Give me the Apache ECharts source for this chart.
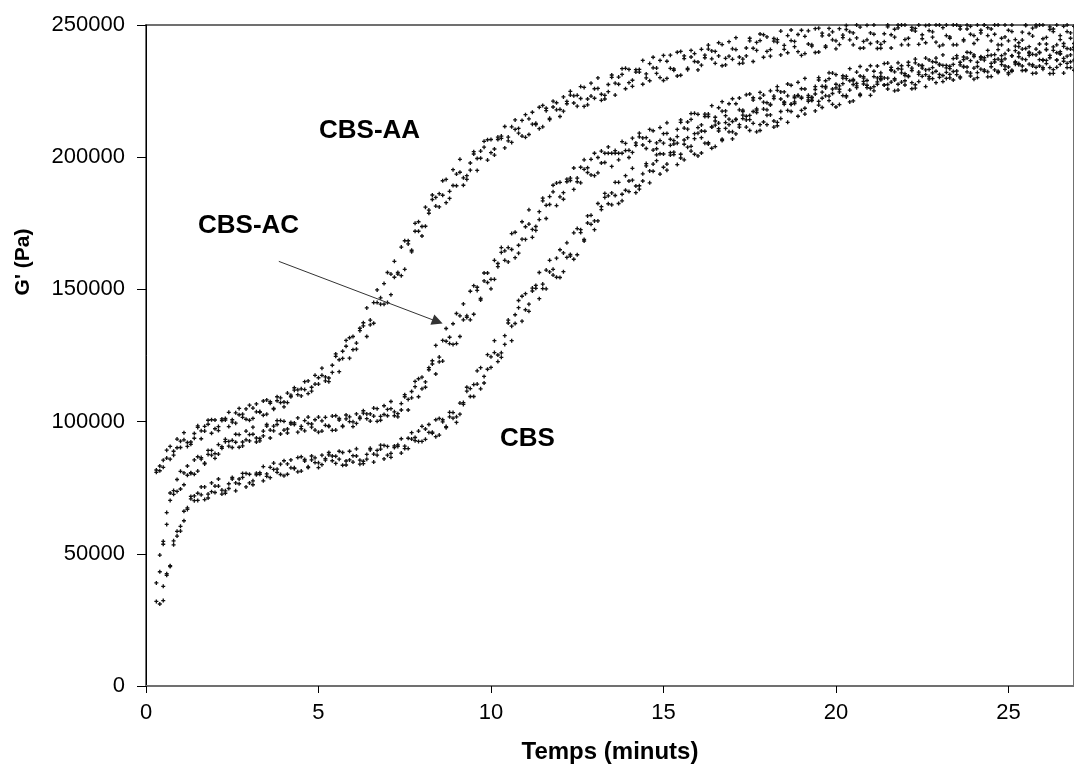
<!DOCTYPE html>
<html>
<head>
<meta charset="utf-8">
<script src="https://cdn.jsdelivr.net/npm/echarts@6/dist/echarts.min.js"></script>
<style>
html,body{margin:0;padding:0;background:#fff;}
#chart{width:1074px;height:776px;}
</style>
</head>
<body>
<div id="chart"></div>
<script>
// ---- data (time in minutes, G' in Pa) ----
const timeMin = [
0.3,0.4,0.5,0.6,0.7,0.8,0.9,1.0,1.1,1.2,
1.3,1.4,1.5,1.6,1.7,1.8,1.9,2.0,2.1,2.2,
2.3,2.4,2.5,2.6,2.7,2.8,2.9,3.0,3.1,3.2,
3.3,3.4,3.5,3.6,3.7,3.8,3.9,4.0,4.1,4.2,
4.3,4.4,4.5,4.6,4.7,4.8,4.9,5.0,5.1,5.2,
5.3,5.4,5.5,5.6,5.7,5.8,5.9,6.0,6.1,6.2,
6.3,6.4,6.5,6.6,6.7,6.8,6.9,7.0,7.1,7.2,
7.3,7.4,7.5,7.6,7.7,7.8,7.9,8.0,8.1,8.2,
8.3,8.4,8.5,8.6,8.7,8.8,8.9,9.0,9.1,9.2,
9.3,9.4,9.5,9.6,9.7,9.8,9.9,10.0,10.1,10.2,
10.3,10.4,10.5,10.6,10.7,10.8,10.9,11.0,11.1,11.2,
11.3,11.4,11.5,11.6,11.7,11.8,11.9,12.0,12.1,12.2,
12.3,12.4,12.5,12.6,12.7,12.8,12.9,13.0,13.1,13.2,
13.3,13.4,13.5,13.6,13.7,13.8,13.9,14.0,14.1,14.2,
14.3,14.4,14.5,14.6,14.7,14.8,14.9,15.0,15.1,15.2,
15.3,15.4,15.5,15.6,15.7,15.8,15.9,16.0,16.1,16.2,
16.3,16.4,16.5,16.6,16.7,16.8,16.9,17.0,17.1,17.2,
17.3,17.4,17.5,17.6,17.7,17.8,17.9,18.0,18.1,18.2,
18.3,18.4,18.5,18.6,18.7,18.8,18.9,19.0,19.1,19.2,
19.3,19.4,19.5,19.6,19.7,19.8,19.9,20.0,20.1,20.2,
20.3,20.4,20.5,20.6,20.7,20.8,20.9,21.0,21.1,21.2,
21.3,21.4,21.5,21.6,21.7,21.8,21.9,22.0,22.1,22.2,
22.3,22.4,22.5,22.6,22.7,22.8,22.9,23.0,23.1,23.2,
23.3,23.4,23.5,23.6,23.7,23.8,23.9,24.0,24.1,24.2,
24.3,24.4,24.5,24.6,24.7,24.8,24.9,25.0,25.1,25.2,
25.3,25.4,25.5,25.6,25.7,25.8,25.9,26.0,26.1,26.2,
26.3,26.4,26.5,26.6,26.7,26.8,26.9
];

// CBS-AA, two runs
const cbsAA_run1 = [
81700,83200,82700,86200,90600,87300,90100,92600,95800,92100,
92300,95500,98400,93500,96400,99000,100700,97300,96600,100400,
100600,98100,99800,103300,105000,102800,100900,100500,105100,106700,
103800,107800,102800,106900,104700,109400,109000,107400,107200,109400,
111900,110200,112400,115100,110600,113000,117500,114200,117500,115400,
115100,118600,124700,123400,126600,130700,124000,132200,129700,135300,
137400,143000,138400,137200,145000,144400,152200,156400,148000,154600,
155800,155200,168400,168400,164800,172000,172000,170200,181100,180000,
185700,184800,181200,185600,191600,184400,189300,193600,199200,192200,
193000,197800,202100,195000,199600,203800,206600,201700,200800,206700,
207100,203500,206200,211500,214100,210900,208000,207500,214500,217000,
212800,218900,211500,217600,214200,221200,220600,218100,217400,220200,
223500,220500,223400,226700,219200,222000,228000,222300,226000,221500,
222000,224800,230200,228000,230300,233500,225900,233200,229100,233100,
233200,236600,231500,228900,233800,231700,236600,238500,229800,233600,
232900,230700,240000,238300,233600,237900,236200,233000,240800,238600,
242400,240200,235500,238300,242600,234900,238200,241000,245200,237900,
237100,241300,245000,236200,240400,244100,246300,240000,238200,243900,
243500,238700,240800,246000,248100,243800,239900,238500,245700,247800,
242500,248600,239800,245900,241600,248700,247400,244000,242600,245200,
248300,244400,247000,250000,241200,243800,249900,243000,246500,241100,
241200,243700,249300,246300,248400,250000,242500,250000,245000,249100,
248700,250000,246300,243300,247900,245400,250000,250000,242500,246000,
245000,242500,250000,249500,244500,248500,246500,243000,250000,248000,
250000,249000,244000,246500,250000,242500,245500,248000,250000,244500,
243300,247300,250000,241800,245800,249300,250000,244800,242800,248300,
247500,242500,244500,249500,250000,247000,243000
];
const cbsAA_run2 = [
80800,81400,85400,89200,85800,88800,93400,90200,93100,90600,
91400,93700,97800,96500,98200,100500,95600,100600,98100,101000,
101200,103500,100700,99400,102600,101600,104800,106200,101200,103700,
103500,102400,108200,107500,105000,107900,107200,105600,110800,110000,
112800,112000,109700,112100,115400,111500,114200,116600,120200,116900,
116500,121300,125600,118900,123900,128500,131700,127200,127400,134400,
136200,132200,136600,145000,149800,146800,144400,145000,155800,160600,
156400,166000,157600,167200,164200,175000,175600,173800,173900,178800,
184000,181500,186200,191100,182800,187100,195300,189200,194300,189400,
191600,195100,201200,199500,202300,206000,198900,206700,203100,207600,
208000,211600,207600,205600,210500,209100,213900,216100,208600,212500,
212300,210800,219600,218500,214700,219000,217900,215400,222800,221100,
224900,223200,219300,222200,226400,219800,223100,225900,230000,223800,
223400,227500,231100,223500,227600,231300,233600,228200,226800,232200,
232200,227600,230000,235400,237800,233700,230100,229000,236300,238600,
233400,239700,231000,237300,233100,240400,239200,236000,234800,237600,
240900,237200,240000,243300,234600,237400,243700,237000,240700,235400,
235600,238300,244000,241200,243400,246600,237800,245500,240700,244900,
244500,247700,242300,239500,244100,241800,246400,248000,239200,242800,
242000,239600,248800,246900,242100,246200,244400,241000,248600,246200,
249800,247400,242500,245100,249200,241300,244400,247000,250000,243600,
242700,246700,250000,241300,245400,248900,250000,244500,242500,248100,
247700,242700,244800,249800,250000,247400,243500,242000,249000,250000,
245500,250000,242500,248500,244000,250000,249500,246000,244500,247000,
250000,246000,248500,250000,242500,245000,250000,244000,247500,242000,
241800,244300,249800,246800,248800,250000,242800,250000,245300,249300,
248500,250000,246000,243000,247500,245000,249500
];

// CBS-AC, two runs
const cbsAC_run1 = [
32000,43200,53600,65600,73000,73900,73600,74500,80600,83200,
80700,85500,81300,85800,84000,89100,89100,87900,87700,89900,
92400,90700,92900,95200,90300,92300,96400,92700,95200,92300,
92700,94600,98300,96800,98300,100400,95300,100100,97200,99700,
99500,101400,98200,96500,99300,97900,100700,101700,96400,98600,
98100,96700,102200,101200,98400,101000,100000,98100,102900,101700,
104100,102900,100200,102100,104900,100500,102700,104600,107600,103700,
103000,106800,110200,104400,109000,113200,116200,112400,113000,119600,
121800,118000,122600,130700,135200,131900,129200,129500,140000,144500,
140000,149300,140600,149600,146000,156200,156200,153800,153800,158600,
164000,161000,165800,171100,162000,166700,175600,168900,174700,169700,
172300,176400,183500,181800,185100,189400,181700,190500,186600,191700,
192100,195900,192100,190300,195400,194200,199200,201500,194100,197800,
201500,201500,201500,201500,201500,201500,202500,199900,207200,205400,
209100,207300,203300,206000,210000,203200,206300,208900,213000,206800,
206300,210500,214100,206500,210600,214300,216600,211200,209900,215400,
215400,211400,213700,218700,221000,217500,214400,213500,220200,222400,
217800,223600,215800,221600,217800,224500,223500,220600,219700,222200,
225300,222000,224700,227700,220000,222500,228300,222300,225800,221100,
221400,223900,229200,226800,228900,231900,224100,231200,227000,230800,
230600,233500,228900,226300,230700,228700,233000,234600,226700,230000,
229300,227300,235600,234000,229700,233500,231900,228900,235900,233700,
237100,234900,230600,233000,236800,229700,232500,234900,238700,232100,
231300,235100,238400,230400,234200,237500,239500,233700,232000,237100,
236700,232300,234200,238800,240700,236800,233200,232000,238400,240300,
235400,240900,233000,238500,234500,240900,239700,236600,235400,237600,
240400,236800,239200,241900,233900,236100,241600
];
const cbsAC_run2 = [
39000,49500,54700,61100,70200,72500,78100,81200,76100,79700,
80400,80100,86700,86400,84300,87600,87300,86100,91300,90500,
93300,92500,90200,92200,95100,90800,93100,95100,97900,93800,
93600,96400,98900,93800,96500,98900,100400,96800,95700,99100,
98900,96000,97300,100400,101700,99100,96800,96000,100300,101600,
98400,102100,96800,100600,98100,102500,101800,99900,99300,101100,
103200,101100,102900,105100,100100,102000,106000,102200,104900,102200,
101800,104400,109400,108400,111400,115200,109400,116800,115000,120400,
123000,128800,124400,122900,130400,129500,137000,140900,132200,138500,
139400,138500,151400,150800,146600,153200,152600,150200,161000,159800,
165800,164600,160400,165100,171600,163700,169000,173700,180100,172700,
173800,179400,184500,176800,182100,186900,190200,185000,184100,190700,
191200,187800,190700,196200,199000,196000,193300,193000,199900,202300,
198000,203900,196500,202500,199000,205900,205200,202600,201800,204500,
207700,204600,207400,210500,202700,205400,211200,205300,209000,204500,
205000,207800,213200,211000,213300,216500,208900,216200,212200,216300,
216300,219500,215100,212900,217400,215700,220200,222100,214400,217900,
217300,215500,223900,222500,218300,222300,220800,217900,225100,223100,
226700,224700,220600,223200,227200,220300,223400,225900,229800,223400,
222700,226700,230100,222300,226200,229700,231800,226200,224700,229900,
229700,225400,227500,232200,234300,230500,227200,226000,232500,234500,
229800,235400,227500,233100,229200,235700,234600,231600,230500,232800,
235700,232200,234700,237500,229600,231900,237500,231300,234700,229800,
230000,232400,237500,234900,236900,239700,231800,238700,234300,238000,
237600,240400,235500,233000,237100,235000,239100,240500,232500,235800,
235000,232800,241100,239400,235000,238700,236900,233900,240800,238500,
241700,239500,235100,237400,241100,233900,236700
];

// CBS, two runs
const cbs_run1 = [
null,null,32300,41900,45200,54900,58500,60400,62500,66800,
70800,70100,72900,75300,70500,72600,76800,73200,75600,72600,
72900,74700,78300,76800,78300,80400,75300,80100,77600,80500,
80700,83000,80200,78800,81900,80800,83900,85200,80100,82500,
82200,81000,86700,85700,82900,85500,84500,82600,87300,86000,
88300,87000,84200,85800,88300,83600,85500,87100,89700,85400,
85000,87600,89900,84700,87300,89600,91000,87300,86500,90200,
90600,88100,89800,93700,95800,94000,92500,92500,97200,98900,
96000,100700,94900,99900,97700,103500,103400,101800,102800,106500,
111500,109500,114000,119200,112400,117100,125300,120500,126100,122700,
124300,129200,137300,136100,140400,145800,138000,148400,144400,150500,
151500,156400,152000,150200,156600,155400,161800,165000,156700,162100,
162600,161400,173000,172600,168900,175100,174600,172600,182500,181300,
186300,185400,182000,185500,190500,183500,187500,191000,195800,189100,
189200,193700,197600,190300,194700,198700,201300,196200,195100,200800,
201000,197200,199700,204900,207400,204100,201100,200500,207400,209800,
205500,211500,204000,209900,206300,213100,212300,209600,208800,211400,
214600,211400,214200,217300,209600,212300,218200,212300,216000,211400,
211900,214600,220000,217700,220000,223100,215500,222700,218500,222600,
222500,225600,221100,218800,223200,221400,225800,227600,219900,223300,
222800,220900,229400,227900,223800,227700,226300,223400,230500,228500,
231900,230000,225800,228400,232300,225400,228400,230900,234700,228200,
227400,231300,234600,226700,230500,233900,235900,230200,228600,233800,
233500,229200,231200,235900,237900,234100,230700,229500,235900,237800,
233000,238400,230500,236000,232000,238400,237200,234100,232900,235200,
238000,234500,236900,239700,231700,234000,239500,233300,236600,231600,
231700,234000,239000,236300,238200,240900,232900
];
const cbs_run2 = [
null,31000,37700,42500,45500,53400,56700,58600,66100,67400,
71700,71900,70200,72300,75300,71100,73500,75600,78300,74100,
73800,76500,78900,73800,76500,78900,80400,76800,76100,79900,
80100,77600,79300,82700,84300,82000,80000,79500,84000,85500,
82500,86400,81300,85100,82600,87000,86300,84400,83700,85400,
87400,85200,86900,88800,83500,85100,88800,84700,87000,83900,
84100,85800,89300,87700,89100,91100,85900,90600,88000,90800,
91200,93500,90700,89800,93400,92800,96400,98200,93300,95900,
95600,94300,101200,100700,98100,101800,101300,99700,107000,107200,
113000,112500,109500,114200,120400,114600,119800,124500,130600,125200,
126000,132500,138400,130600,137100,143100,147400,142300,141700,149400,
150400,146500,150300,157300,161000,157600,154600,154500,163800,167600,
163200,171400,163100,171500,168300,177800,178000,175900,175900,180200,
184800,182400,186500,190500,182500,186000,193000,187000,191300,186600,
187900,191000,196700,194800,197400,200900,193600,201200,197400,201700,
201900,205300,201100,199000,203800,202300,207000,209100,201600,205300,
205000,203400,212100,210800,206800,210900,209600,206900,214200,212300,
215900,214100,210100,212800,216900,210100,213300,215900,220000,213700,
213200,217300,220900,213200,217300,220900,223200,217700,216300,221700,
221600,217500,219700,224600,226800,223100,220000,219000,225700,227800,
223300,228900,221300,227000,223300,229900,229000,226100,225100,227600,
230600,227300,229900,232900,225100,227600,233300,227300,230700,225900,
226100,228600,233700,231200,233200,236100,228200,235200,230900,234700,
234400,237300,232600,230000,234300,232300,236500,238100,230100,233300,
232500,230400,238600,236900,232500,236200,234500,231400,238300,236100,
239400,237200,232800,235200,238900,231800,234500,236900,240600,233900,
233100,236700,239900,231800,235500,238700,240600
];

const xTicks = [0, 5, 10, 15, 20, 25];
const yTicks = [0, 50000, 100000, 150000, 200000, 250000];

// annotation texts and arrow (time, G')
const labelTexts = ['CBS-AA', 'CBS-AC', 'CBS'];
const arrowFrom = [3.85, 160600];
const arrowTo = [8.45, 137800];

// ---- chart ----
const PLUS = 'path://M1,0H2V1H3V2H2V3H1V2H0V1H1Z';
function pts(t, a, b) {
  const out = [];
  for (let i = 0; i < t.length; i++) {
    if (a[i] != null) out.push([t[i], a[i]]);
    if (b[i] != null) out.push([t[i], b[i]]);
  }
  return out;
}
const FONT = '"Liberation Sans", Arial, sans-serif';
const chart = echarts.init(document.getElementById('chart'), null, {renderer: 'canvas'});
function mkSeries(name, a, b, extra) {
  return Object.assign({
    type: 'scatter', name: name, data: pts(timeMin, a, b),
    symbol: PLUS, symbolSize: 4, itemStyle: {color: '#111', opacity: 1},
    silent: true, emphasis: {disabled: true}, clip: true, animation: false
  }, extra || {});
}
const option = {
  animation: false,
  backgroundColor: '#ffffff',
  grid: {left: 146, right: 0, top: 25, bottom: 90, show: true, borderColor: '#707070', borderWidth: 2, backgroundColor: 'transparent'},
  xAxis: {
    type: 'value', min: xTicks[0], max: 26.9, interval: 5,
    axisLine: {show: true, onZero: false, lineStyle: {color: '#707070', width: 2}},
    axisTick: {show: true, length: 7, lineStyle: {color: '#000', width: 1}},
    axisLabel: {show: true, margin: 16, fontSize: 22, color: '#000', fontFamily: FONT, showMaxLabel: false,
      formatter: v => xTicks.indexOf(v) >= 0 ? String(v) : ''},
    splitLine: {show: false},
    name: 'Temps (minuts)', nameLocation: 'middle', nameGap: 54,
    nameTextStyle: {fontSize: 24, fontWeight: 'bold', color: '#000', fontFamily: FONT}
  },
  yAxis: {
    type: 'value', min: yTicks[0], max: yTicks[yTicks.length - 1], interval: 50000,
    axisLine: {show: true, onZero: false, lineStyle: {color: '#000', width: 1}},
    axisTick: {show: true, length: 9, lineStyle: {color: '#000', width: 1}},
    axisLabel: {show: true, margin: 21, fontSize: 22, color: '#000', fontFamily: FONT,
      formatter: v => String(v)},
    splitLine: {show: false}
  },
  graphic: [
    {type: 'text', x: 319, y: 131, silent: true,
      style: {text: labelTexts[0], font: 'bold 26px ' + FONT, fill: '#000', align: 'left', verticalAlign: 'middle'}},
    {type: 'text', x: 198, y: 226, silent: true,
      style: {text: labelTexts[1], font: 'bold 26px ' + FONT, fill: '#000', align: 'left', verticalAlign: 'middle'}},
    {type: 'text', x: 500, y: 439, silent: true,
      style: {text: labelTexts[2], font: 'bold 26px ' + FONT, fill: '#000', align: 'left', verticalAlign: 'middle'}},
    {type: 'text', x: 23, y: 262, rotation: Math.PI / 2, silent: true,
      style: {text: "G' (Pa)", font: 'bold 21px ' + FONT, fill: '#000', align: 'center', verticalAlign: 'middle'}}
  ],
  series: [
    mkSeries('CBS-AA', cbsAA_run1, cbsAA_run2),
    mkSeries('CBS-AC', cbsAC_run1, cbsAC_run2, {
      markLine: {
        silent: true, animation: false, symbol: ['none', 'triangle'], symbolSize: 11,
        label: {show: false}, emphasis: {disabled: true},
        lineStyle: {color: '#333', width: 1, type: 'solid'},
        itemStyle: {color: '#000'},
        data: [[{coord: arrowFrom}, {coord: arrowTo}]]
      }
    }),
    mkSeries('CBS', cbs_run1, cbs_run2)
  ]
};
chart.setOption(option);
</script>
</body>
</html>
